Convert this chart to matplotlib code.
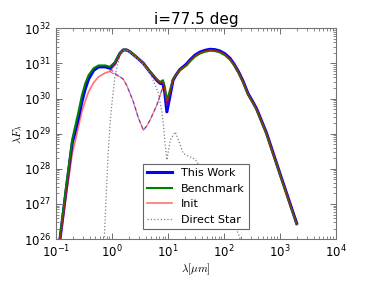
import numpy as np
import matplotlib
matplotlib.use("Agg")
from matplotlib import pyplot as plt

# log10(wavelength / um) grid shared by the three full SEDs
log_lam = [-0.95, -0.82, -0.71, -0.66, -0.60, -0.54, -0.48, -0.42, -0.33, -0.24,
           -0.12, -0.04, 0.05, 0.14, 0.20, 0.26, 0.32, 0.44, 0.56, 0.68,
           0.80, 0.86, 0.91, 0.94, 0.98, 1.02, 1.09, 1.14, 1.21, 1.27,
           1.33, 1.39, 1.48, 1.57, 1.66, 1.75, 1.84, 1.93, 2.02, 2.11,
           2.18, 2.26, 2.34, 2.43, 2.50, 2.58, 2.76, 3.00, 3.30]
# log10(lambda F_lambda)
this_work = [25.75, 27.4, 28.75, 29.05, 29.45, 29.9, 30.27, 30.55, 30.8, 30.9,
             30.9, 30.86, 31.0, 31.28, 31.38, 31.38, 31.33, 31.17, 31.0, 30.75,
             30.52, 30.43, 30.42, 30.2, 29.62, 29.95, 30.52, 30.66, 30.82, 30.9,
             30.98, 31.09, 31.23, 31.32, 31.37, 31.4, 31.39, 31.35, 31.27, 31.14,
             30.98, 30.76, 30.5, 30.14, 29.95, 29.72, 29.02, 27.87, 26.45]
benchmark = [25.8, 27.5, 28.85, 29.2, 29.62, 30.08, 30.42, 30.66, 30.86, 30.94,
             30.94, 30.9, 31.03, 31.3, 31.39, 31.39, 31.34, 31.18, 31.01, 30.77,
             30.55, 30.47, 30.52, 30.35, 29.95, 30.15, 30.55, 30.67, 30.8, 30.87,
             30.94, 31.05, 31.19, 31.28, 31.33, 31.36, 31.35, 31.31, 31.23, 31.1,
             30.95, 30.73, 30.47, 30.11, 29.92, 29.69, 28.99, 27.84, 26.42]
init = [25.7, 27.25, 28.45, 28.77, 29.2, 29.62, 29.92, 30.19, 30.45, 30.62,
        30.73, 30.77, 30.95, 31.25, 31.37, 31.38, 31.33, 31.17, 31.0, 30.76,
        30.53, 30.44, 30.46, 30.25, 29.8, 30.05, 30.53, 30.66, 30.81, 30.89,
        30.96, 31.07, 31.21, 31.3, 31.35, 31.38, 31.37, 31.33, 31.25, 31.12,
        30.97, 30.75, 30.49, 30.13, 29.94, 29.71, 29.01, 27.86, 26.44]

# scattered light part (dashed)
log_lam_sc = [-0.04, 0.05, 0.14, 0.20, 0.26, 0.32, 0.38, 0.47, 0.56, 0.62,
              0.68, 0.80, 0.89, 0.93]
this_work_sc = [30.86, 30.72, 30.62, 30.55, 30.38, 30.15, 29.91, 29.45, 29.1, 29.22,
                29.39, 29.81, 30.24, 30.42]
init_sc = [30.77, 30.68, 30.62, 30.55, 30.38, 30.15, 29.91, 29.45, 29.1, 29.22,
           29.39, 29.81, 30.24, 30.42]

# direct star (dotted)
log_lam_star = [-0.17, -0.14, -0.10, -0.07, -0.03, 0.0, 0.05, 0.10, 0.14, 0.20,
                0.26, 0.32, 0.44, 0.56, 0.68, 0.74, 0.83, 0.89, 0.92, 0.95,
                0.98, 1.04, 1.13, 1.21, 1.27, 1.39, 1.48, 1.60, 1.80, 2.00,
                2.15, 2.27, 2.35]
star = [25.4, 26.0, 27.4, 28.45, 29.4, 29.9, 30.6, 31.0, 31.2, 31.36,
        31.37, 31.32, 31.15, 30.97, 30.72, 30.5, 30.14, 29.62, 29.24, 28.68,
        28.25, 28.82, 29.05, 28.72, 28.44, 28.34, 28.28, 28.0, 27.5, 27.0,
        26.55, 26.1, 25.7]


def p(v):
    return 10.0 ** np.array(v)


fig = plt.figure(figsize=(3.74, 2.82), dpi=100)
ax = fig.add_axes([0.15, 0.152, 0.748, 0.748])

ax.plot(p(log_lam), p(this_work), color='b', lw=2.2, label='This Work')
ax.plot(p(log_lam), p(benchmark), color='g', lw=1.5, label='Benchmark')
ax.plot(p(log_lam), p(init), color='r', lw=1.2, alpha=0.55, label='Init')
ax.plot(p(log_lam_sc), p(this_work_sc), color='b', lw=0.9, ls='--', alpha=0.6)
ax.plot(p(log_lam_sc), p(init_sc), color='r', lw=0.9, ls='--', alpha=0.6)
ax.plot(p(log_lam_star), p(star), color='gray', lw=0.9, ls=':', label='Direct Star')

ax.set_xscale('log')
ax.set_yscale('log')
ax.set_xlim(1e-1, 1e4)
ax.set_ylim(1e26, 1e32)

ax.tick_params(which='both', direction='in', top=True, right=True,
               labelsize=8.5, color='0.35')
ax.tick_params(which='major', length=4, width=0.6)
ax.tick_params(which='minor', length=2, width=0.5)
for s in ax.spines.values():
    s.set_color('0.45')
    s.set_linewidth(0.8)

ax.set_title('i=77.5 deg', fontsize=11, pad=3)
ax.set_xlabel(r'$\lambda[\mu m]$', fontsize=8, math_fontfamily='cm', labelpad=1)
ax.set_ylabel(r'$\lambda F_\lambda$', fontsize=8, math_fontfamily='cm', labelpad=0)

leg = ax.legend(loc='lower left', bbox_to_anchor=(0.29, 0.02), fontsize=8,
                fancybox=False, framealpha=1, edgecolor='0.4',
                borderpad=0.4, labelspacing=0.5, handlelength=2.2)
leg.get_frame().set_linewidth(0.8)

fig.savefig('out.png', dpi=100)
